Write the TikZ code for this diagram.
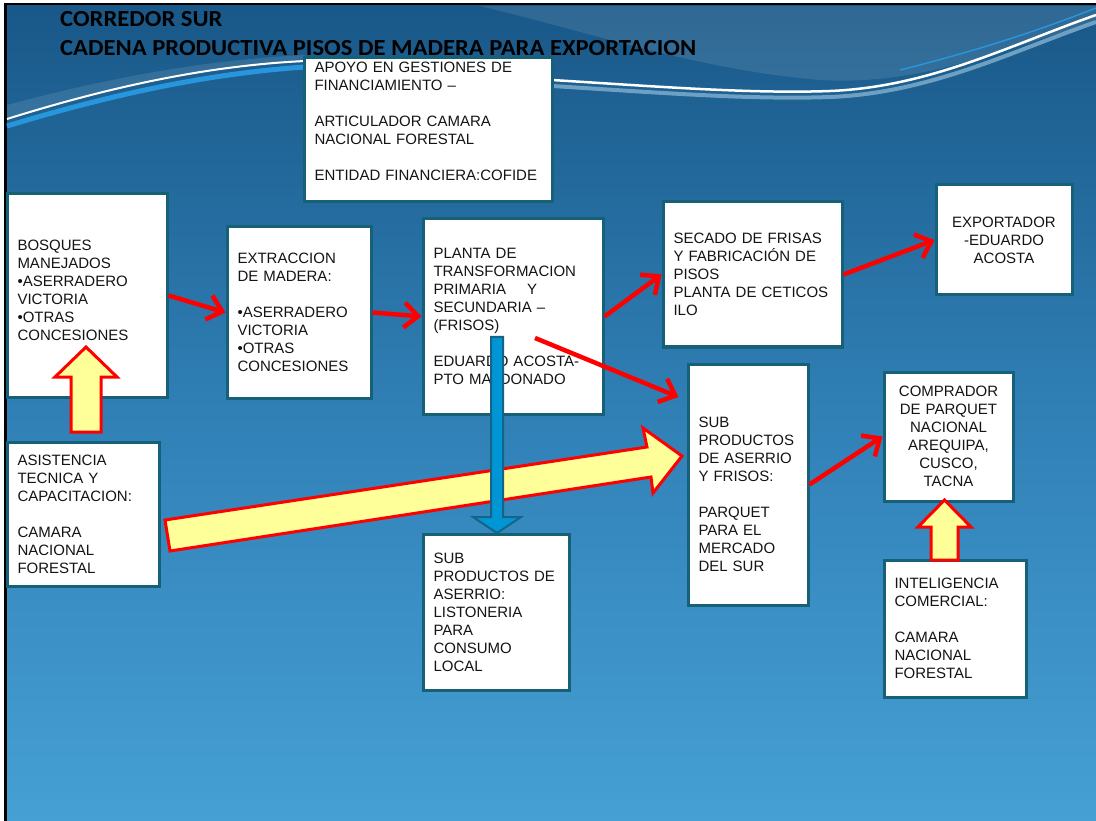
\documentclass[tikz,border=0pt]{standalone}
\usepackage{fontspec}
\setmainfont{Liberation Sans}
\newfontfamily\titlefont{Carlito}[FakeStretch=1.07]
\usetikzlibrary{arrows.meta}
\definecolor{boxc}{RGB}{22,96,120}
\definecolor{bgtop}{RGB}{25,88,136}
\definecolor{bgmid}{RGB}{48,128,182}
\definecolor{bgbot}{RGB}{70,160,212}
\definecolor{yfill}{RGB}{255,255,153}
\definecolor{bfill}{RGB}{0,150,214}
\definecolor{bline}{RGB}{20,100,135}
\definecolor{swblue}{RGB}{40,150,220}
\definecolor{swgray}{RGB}{110,160,195}
\definecolor{txt}{RGB}{20,20,20}
\begin{document}
\begin{tikzpicture}[x=1pt,y=-1pt,
  box/.style={draw=boxc, line width=3pt, fill=white, inner xsep=10.5pt, inner ysep=0pt,
    align=left, text=txt, font=\fontsize{15}{18}\selectfont},
  cbox/.style={box, align=center},
  redarr/.style={draw=red, line width=4.5pt, -{Straight Barb[length=14pt,width=25pt]}},
  yarrow/.style={fill=yfill, draw=red, line width=3pt, line join=miter},
  barrow/.style={fill=bfill, draw=bline, line width=2pt, line join=miter},
  ttl/.style={anchor=base west, inner sep=0pt, font=\titlefont\bfseries\fontsize{23}{26}\selectfont, text=black}
]
\useasboundingbox (0,0) rectangle (1096,821);
% background and frame
\fill[white] (0,0) rectangle (1096,821);
\fill[black] (4,3) rectangle (1096,821);
\shade[top color=bgtop, bottom color=bgbot, middle color=bgmid] (7,6) rectangle (1096,821);
% decorative waves
\fill[white, opacity=0.10] (480,6) .. controls (600,35) and (700,70) .. (820,80) .. controls (920,86) and (1000,50) .. (1096,22) -- (1096,6) -- cycle;
\fill[white, opacity=0.10] (7,105) .. controls (100,80) and (200,60) .. (305,55) -- (305,62) .. controls (200,66) and (100,90) .. (7,118) -- cycle;
\draw[swblue, line width=5pt] (7,126) .. controls (100,98) and (200,74) .. (305,67);
\draw[white, line width=2pt] (7,119) .. controls (100,90) and (200,66) .. (305,61);
\draw[swgray, line width=4pt] (552,86) .. controls (650,92) and (750,100) .. (830,97) .. controls (930,93) and (1010,52) .. (1096,22);
\draw[white, line width=2.5pt] (552,80) .. controls (650,86) and (750,94) .. (830,91) .. controls (930,87) and (1010,45) .. (1096,15);
\draw[swblue, line width=1.5pt] (900,70) .. controls (980,50) and (1040,30) .. (1096,8);
% title
\node[ttl] (t1) at (60,27) {CORREDOR SUR};
\node[ttl] (t2) at (60,55.5) {CADENA PRODUCTIVA PISOS DE MADERA PARA EXPORTACION};
% boxes
\node[box, text width=227pt, minimum height=144pt] (apoyo) at (428,130)
  {APOYO EN GESTIONES DE\\FINANCIAMIENTO –\\[18pt]ARTICULADOR CAMARA\\NACIONAL FORESTAL\\[18pt]ENTIDAD FINANCIERA:COFIDE\\\mbox{}};
\node[box, text width=139pt, minimum height=203pt] (bos) at (87,295.5)
  {BOSQUES\\MANEJADOS\\•ASERRADERO\\VICTORIA\\•OTRAS\\CONCESIONES\\[-7pt]\mbox{}};
\node[box, text width=123pt, minimum height=171pt] (ext) at (299,312.5)
  {EXTRACCION\\DE MADERA:\\[18pt]•ASERRADERO\\VICTORIA\\•OTRAS\\CONCESIONES};
\node[box, text width=131pt, minimum height=144pt] (asis) at (83,514)
  {ASISTENCIA\\TECNICA Y\\CAPACITACION:\\[18pt]CAMARA\\NACIONAL\\FORESTAL};
\node[box, text width=159pt, minimum height=195pt] (planta) at (513,316.5)
  {PLANTA DE\\TRANSFORMACION\\PRIMARIA\hspace{21pt}Y\\SECUNDARIA –\\(FRISOS)\\[18pt]EDUARDO ACOSTA-\\PTO MALDONADO};
\node[box, text width=158pt, minimum height=145pt] (sec) at (752.5,274.5)
  {SECADO DE FRISAS\\Y FABRICACIÓN DE\\PISOS\\PLANTA DE CETICOS\\ILO};
\node[cbox, text width=115pt, minimum height=110pt] (exp) at (1004,240)
  {EXPORTADOR\\-EDUARDO\\ACOSTA};
\node[box, text width=99pt, minimum height=241pt] (sub8) at (748,484.5)
  {\mbox{}\\[12pt]SUB\\PRODUCTOS\\DE ASERRIO\\Y FRISOS:\\[18pt]PARQUET\\PARA EL\\MERCADO\\DEL SUR};
\node[box, text width=125pt, minimum height=156pt] (sub9) at (496,612)
  {SUB\\PRODUCTOS DE\\ASERRIO:\\LISTONERIA\\PARA\\CONSUMO\\LOCAL};
\node[cbox, text width=108pt, minimum height=129pt] (comp) at (948.5,436.5)
  {COMPRADOR\\DE PARQUET\\NACIONAL\\AREQUIPA,\\CUSCO,\\TACNA};
\node[box, text width=121pt, minimum height=137pt] (intel) at (955,628.5)
  {INTELIGENCIA\\COMERCIAL:\\[18pt]CAMARA\\NACIONAL\\FORESTAL};
% red connectors
\draw[redarr] (bos.east) -- (ext.west);
\draw[redarr] (ext.east) -- (planta.west);
\draw[redarr] (planta.east) -- (sec.west);
\draw[redarr] (sec.east) -- (exp.west);
\draw[redarr] ([xshift=22pt,yshift=-21.5pt]planta.center) -- ([xshift=-8pt,yshift=87.5pt]sub8.west);
\draw[redarr] (sub8.east) -- (comp.west);
% yellow block arrows
\draw[yarrow] (71,432) -- (71,377) -- (55,377) -- (86,347) -- (117,377) -- (101,377) -- (101,432) -- cycle;
\draw[yarrow] (931,560) -- (931,527) -- (918,527) -- (944.5,500) -- (971,527) -- (958,527) -- (958,560) -- cycle;
\draw[yarrow] (165,520) -- (647,447) -- (643,428) -- (682,456) -- (653,493) -- (651,477) -- (170,551) -- cycle;
% blue block arrow
\draw[barrow] (491,337) -- (491,517) -- (473,517) -- (497,533) -- (521,517) -- (503,517) -- (503,337) -- cycle;
\end{tikzpicture}
\end{document}
